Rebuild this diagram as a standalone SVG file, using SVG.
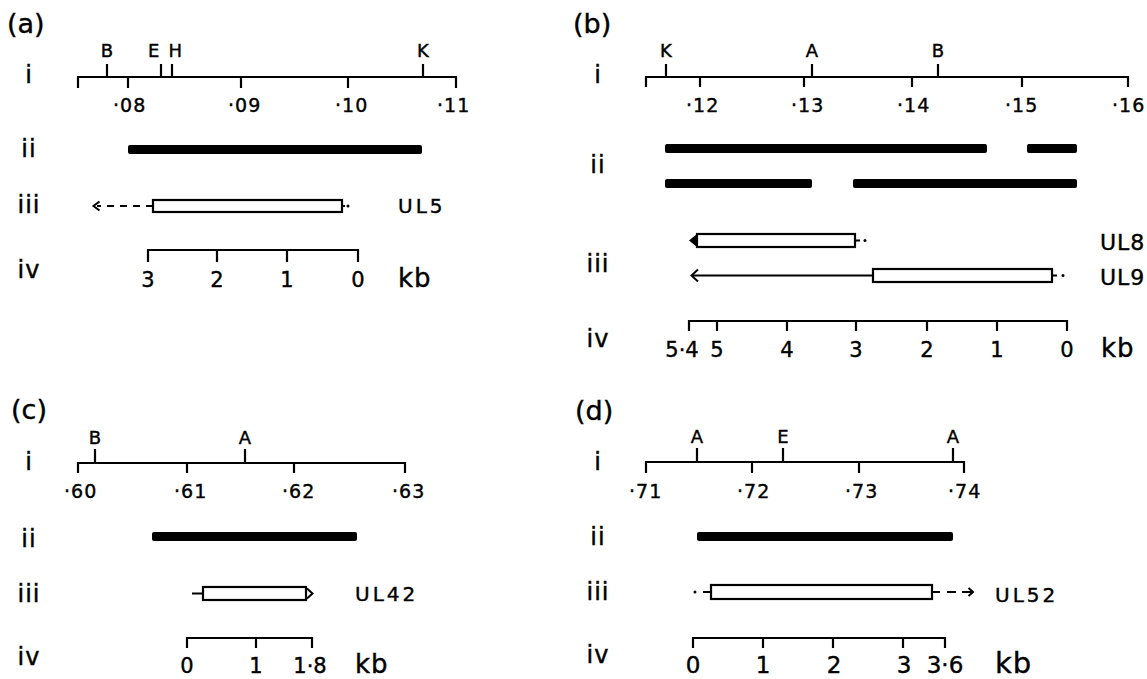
<svg xmlns="http://www.w3.org/2000/svg" width="1147" height="679" viewBox="0 0 1147 679">
<style>
text{font-family:"DejaVu Sans","Liberation Sans",sans-serif;fill:#000;stroke:#000;stroke-width:0.4}
.t{font-size:27px}
.row{font-size:24px;text-anchor:middle;letter-spacing:1px}
.site{font-size:18px;text-anchor:middle}
.num{font-size:19px;letter-spacing:1px}
.sc{font-size:21px;text-anchor:middle}
.sc2{font-size:23px;text-anchor:middle}
.kb{font-size:26px;letter-spacing:1px}
.ul{font-size:20px;letter-spacing:3px}
.ul2{font-size:22px;letter-spacing:1px}
.ax{stroke:#000;stroke-width:2.2;fill:none}
.bar{fill:#000}
.box{fill:#fff;stroke:#000;stroke-width:2.2}
.ln{stroke:#000;stroke-width:2;fill:none}
.dash{stroke-dasharray:7 6}
.dot{fill:#000}
</style>
<rect width="1147" height="679" fill="#fff"/>

<g id="panel-a">
  <text class="t" x="7" y="33">(a)</text>
  <g id="a-i">
    <text class="row" x="29" y="83">i</text>
    <path class="ax" d="M78,88V77H456V88M128,77V88M241,77V88M348,77V88M107,77V64M161,77V64M172,77V64M423,77V64"/>
    <text class="site" x="107" y="57">B</text>
    <text class="site" x="165" y="57" textLength="34">EH</text>
    <text class="site" x="423" y="57">K</text>
    <text class="num" x="113" y="112">·08</text>
    <text class="num" x="228" y="112">·09</text>
    <text class="num" x="335" y="112">·10</text>
    <text class="num" x="437" y="112">·11</text>
  </g>
  <g id="a-ii">
    <text class="row" x="29" y="157">ii</text>
    <rect class="bar" x="128" y="145" width="294" height="9" rx="2"/>
  </g>
  <g id="a-iii">
    <text class="row" x="29" y="213">iii</text>
    <rect class="box" x="153" y="200" width="189" height="12"/>
    <circle class="dot" cx="348" cy="206" r="1.5"/>
    <text class="ul" x="398" y="213">UL5</text>
  </g>
  <g id="a-iv">
    <text class="row" x="29" y="278">iv</text>
    <path class="ax" d="M148,262V250H358V262M217,250V262M287,250V262"/>
    <text class="sc" x="148" y="287">3</text>
    <text class="sc" x="217" y="287">2</text>
    <text class="sc" x="287" y="287">1</text>
    <text class="sc" x="358" y="287">0</text>
    <text class="kb" x="398" y="287">kb</text>
  </g>
</g>

<g id="panel-b">
  <text class="t" x="573" y="33">(b)</text>
  <g id="b-i">
    <text class="row" x="598" y="83">i</text>
    <path class="ax" d="M646,87V77H1128V87M700,77V87M804,77V87M912,77V87M1022,77V87M666,77V64M812,77V64M938,77V64"/>
    <text class="site" x="666" y="57">K</text>
    <text class="site" x="812" y="57">A</text>
    <text class="site" x="938" y="57">B</text>
    <text class="num" x="686" y="112">·12</text>
    <text class="num" x="791" y="112">·13</text>
    <text class="num" x="897" y="112">·14</text>
    <text class="num" x="1005" y="112">·15</text>
    <text class="num" x="1112" y="112">·16</text>
  </g>
  <g id="b-ii">
    <text class="row" x="598" y="173">ii</text>
    <rect class="bar" x="665" y="144" width="322" height="9" rx="2"/>
    <rect class="bar" x="1027" y="144" width="50" height="9" rx="2"/>
    <rect class="bar" x="665" y="179" width="147" height="9" rx="2"/>
    <rect class="bar" x="853" y="179" width="224" height="9" rx="2"/>
  </g>
  <g id="b-iii">
    <text class="row" x="598" y="272">iii</text>
    <rect class="box" x="697" y="234" width="158" height="13"/>
    <path class="dot" d="M697,234L689,240.5L697,247Z"/>
    <circle class="dot" cx="865" cy="240.5" r="1.5"/>
    <text class="ul2" x="1100" y="250">UL8</text>
    <rect class="box" x="873" y="269" width="179" height="13"/>
    <circle class="dot" cx="1063" cy="275.5" r="1.5"/>
    <text class="ul2" x="1100" y="285">UL9</text>
  </g>
  <g id="b-iv">
    <text class="row" x="598" y="347">iv</text>
    <path class="ax" d="M689,331V321H1067V331M717,321V331M787,321V331M856,321V331M927,321V331M997,321V331"/>
    <text class="sc" x="682" y="357">5·4</text>
    <text class="sc" x="717" y="357">5</text>
    <text class="sc" x="787" y="357">4</text>
    <text class="sc" x="856" y="357">3</text>
    <text class="sc" x="927" y="357">2</text>
    <text class="sc" x="997" y="357">1</text>
    <text class="sc" x="1067" y="357">0</text>
    <text class="kb" x="1101" y="357">kb</text>
  </g>
</g>

<g id="panel-c">
  <text class="t" x="11" y="419">(c)</text>
  <g id="c-i">
    <text class="row" x="29" y="470">i</text>
    <path class="ax" d="M78,473V463H405V473M187,463V473M294,463V473M95,463V449M245,463V449"/>
    <text class="site" x="95" y="444">B</text>
    <text class="site" x="245" y="444">A</text>
    <text class="num" x="64" y="498">·60</text>
    <text class="num" x="174" y="498">·61</text>
    <text class="num" x="282" y="498">·62</text>
    <text class="num" x="392" y="498">·63</text>
  </g>
  <g id="c-ii">
    <text class="row" x="29" y="547">ii</text>
    <rect class="bar" x="152" y="532" width="205" height="9" rx="2"/>
  </g>
  <g id="c-iii">
    <text class="row" x="29" y="602">iii</text>
    <rect class="box" x="203" y="587" width="103" height="13"/>
    <text class="ul" x="355" y="601">UL42</text>
  </g>
  <g id="c-iv">
    <text class="row" x="29" y="665">iv</text>
    <path class="ax" d="M187,648V638H312V648M256,638V648"/>
    <text class="sc" x="187" y="673">0</text>
    <text class="sc" x="256" y="673">1</text>
    <text class="sc" x="310" y="673">1·8</text>
    <text class="kb" x="355" y="673">kb</text>
  </g>
</g>

<g id="panel-d">
  <text class="t" x="575" y="420">(d)</text>
  <g id="d-i">
    <text class="row" x="598" y="470">i</text>
    <path class="ax" d="M646,473V462H964V473M752,462V473M859,462V473M697,462V448M783,462V448M953,462V448"/>
    <text class="site" x="697" y="443">A</text>
    <text class="site" x="783" y="443">E</text>
    <text class="site" x="953" y="443">A</text>
    <text class="num" x="629" y="498">·71</text>
    <text class="num" x="737" y="498">·72</text>
    <text class="num" x="845" y="498">·73</text>
    <text class="num" x="948" y="498">·74</text>
  </g>
  <g id="d-ii">
    <text class="row" x="598" y="545">ii</text>
    <rect class="bar" x="697" y="532" width="256" height="9" rx="2"/>
  </g>
  <g id="d-iii">
    <text class="row" x="598" y="600">iii</text>
    <rect class="box" x="711" y="585" width="221" height="14"/>
    <circle class="dot" cx="695" cy="592" r="1.5"/>
    <text class="ul" x="995" y="602">UL52</text>
  </g>
  <g id="d-iv">
    <text class="row" x="598" y="663">iv</text>
    <path class="ax" d="M693,648V638H945V648M763,638V648M833,638V648M903,638V648"/>
    <text class="sc2" x="693" y="673">0</text>
    <text class="sc2" x="763" y="673">1</text>
    <text class="sc2" x="834" y="673">2</text>
    <text class="sc2" x="904" y="673">3</text>
    <text class="sc2" x="945" y="673">3·6</text>
    <text class="kb" x="995" y="673" style="font-size:29px">kb</text>
  </g>
</g>

<g id="connectors">
  <path class="ln dash" d="M153,206H97"/>
  <path class="ln" d="M99.5,201.5L93.5,206L99.5,210.5"/>
  <path class="ln" d="M342,206H345"/>
  <path class="ln" d="M855,240.5H860"/>
  <path class="ln" d="M873,275.5H692"/>
  <path class="ln" d="M698,269.5L691.5,275.5L698,281.5"/>
  <path class="ln" d="M1052,275.5H1057"/>
  <path class="ln" d="M192,593.5H203"/>
  <path class="ln" d="M307,588.5L312.5,593.5L307,598.5"/>
  <path class="ln" d="M703,592H711"/>
  <path class="ln" d="M932,592H940M947,592H956M962,592H972"/>
  <path class="ln" d="M968.5,588L973,592L968.5,596"/>
</g>
</svg>
